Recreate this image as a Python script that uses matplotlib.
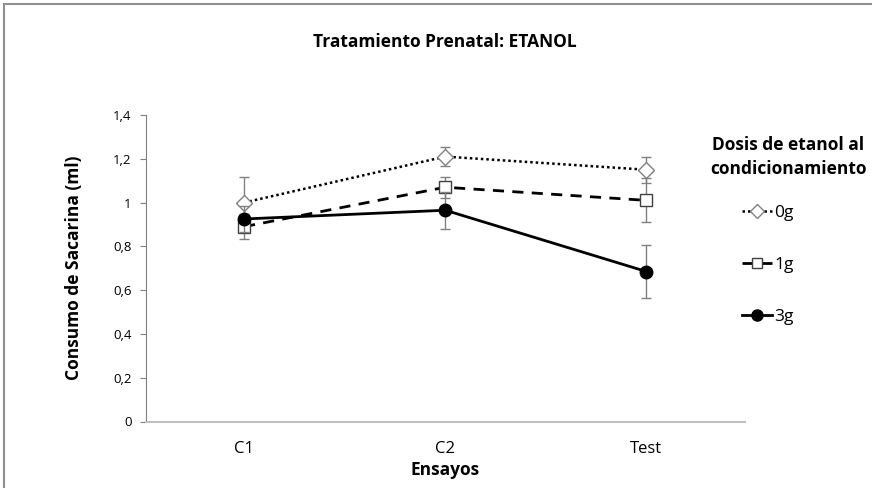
import matplotlib.pyplot as plt
from matplotlib.patches import Rectangle
from matplotlib.lines import Line2D

plt.rcParams['font.family'] = ['Open Sans', 'DejaVu Sans']

# ensayos y medias por dosis
ensayos = ["C1", "C2", "Test"]
media_0g = [1.00, 1.21, 1.15]
media_1g = [0.89, 1.07, 1.01]
media_3g = [0.925, 0.965, 0.685]
# error estandar
err_0g = [0.115, 0.045, 0.06]
err_1g = [0.058, 0.047, 0.10]
err_3g = [0.06, 0.085, 0.12]

fig = plt.figure(figsize=(8.72, 4.88), dpi=100)
ax = fig.add_axes([145.5/872, (488-421.5)/488, (745-145.5)/872, (421.5-115)/488])

x = range(len(ensayos))
gris = "#808080"

estilo_0g = dict(color="black", ls=(0, (1, 1.2)), lw=1.8, marker="D", mfc="white", mec=gris, mew=1)
estilo_1g = dict(color="black", ls=(0, (4, 3)), lw=2, marker="s", mfc="white", mec="#404040", mew=1)
estilo_3g = dict(color="black", ls="-", lw=2, marker="o", mfc="black", mec="black")

ax.errorbar(x, media_0g, yerr=err_0g, ecolor=gris, elinewidth=1, capsize=3.5, capthick=1,
            ms=8, zorder=3, **estilo_0g)
ax.errorbar(x, media_1g, yerr=err_1g, ecolor=gris, elinewidth=1, capsize=3.5, capthick=1,
            ms=8.5, zorder=3, **estilo_1g)
ax.errorbar(x, media_3g, yerr=err_3g, ecolor=gris, elinewidth=1, capsize=3.5, capthick=1,
            ms=9, zorder=4, **estilo_3g)

ax.set_xlim(-0.49, 2.49)
ax.set_ylim(0, 1.4)
ax.set_yticks([0, 0.2, 0.4, 0.6, 0.8, 1.0, 1.2, 1.4])
ax.set_yticklabels(["0", "0,2", "0,4", "0,6", "0,8", "1", "1,2", "1,4"], fontsize=9.5)
ax.set_xticks(list(x))
ax.set_xticklabels(ensayos, fontsize=12)
ax.tick_params(axis="x", length=0, pad=14)
ax.tick_params(axis="y", length=4, color=gris, pad=6)
for s in ["top", "right"]:
    ax.spines[s].set_visible(False)
ax.spines["left"].set_color(gris)
ax.spines["bottom"].set_color("#c0c0c0")
ax.spines["bottom"].set_linewidth(1.5)

ax.set_ylabel("Consumo de Sacarina (ml)", fontsize=12.5, fontweight="bold", labelpad=22)
ax.set_xlabel("Ensayos", fontsize=12.5, fontweight="bold", labelpad=3)
fig.text(445/872, 1 - 42/488, "Tratamiento Prenatal: ETANOL", ha="center", va="center",
         fontsize=12.5, fontweight="bold")

handles = [Line2D([], [], ms=7, **estilo_0g),
           Line2D([], [], ms=7, **estilo_1g),
           Line2D([], [], ms=8, **estilo_3g)]
leg = fig.legend(handles, ["0g", "1g", "3g"], loc="upper left",
                 bbox_to_anchor=(742/872, 1 - 205/488),
                 frameon=False, fontsize=12.5, handlelength=1.7, handletextpad=0.15,
                 labelspacing=2.05, borderaxespad=0, borderpad=0)
fig.text(788/872, 1 - 157/488, "Dosis de etanol al\ncondicionamiento", ha="center", va="center",
         fontsize=12.5, fontweight="bold", linespacing=1.45)

# marco exterior
fig.patches.append(Rectangle((4/872, -0.05), 1.2, 1.05 - 4/488, transform=fig.transFigure,
                             fill=False, edgecolor="#909090", lw=1.5))

fig.savefig("out.png", dpi=100)
